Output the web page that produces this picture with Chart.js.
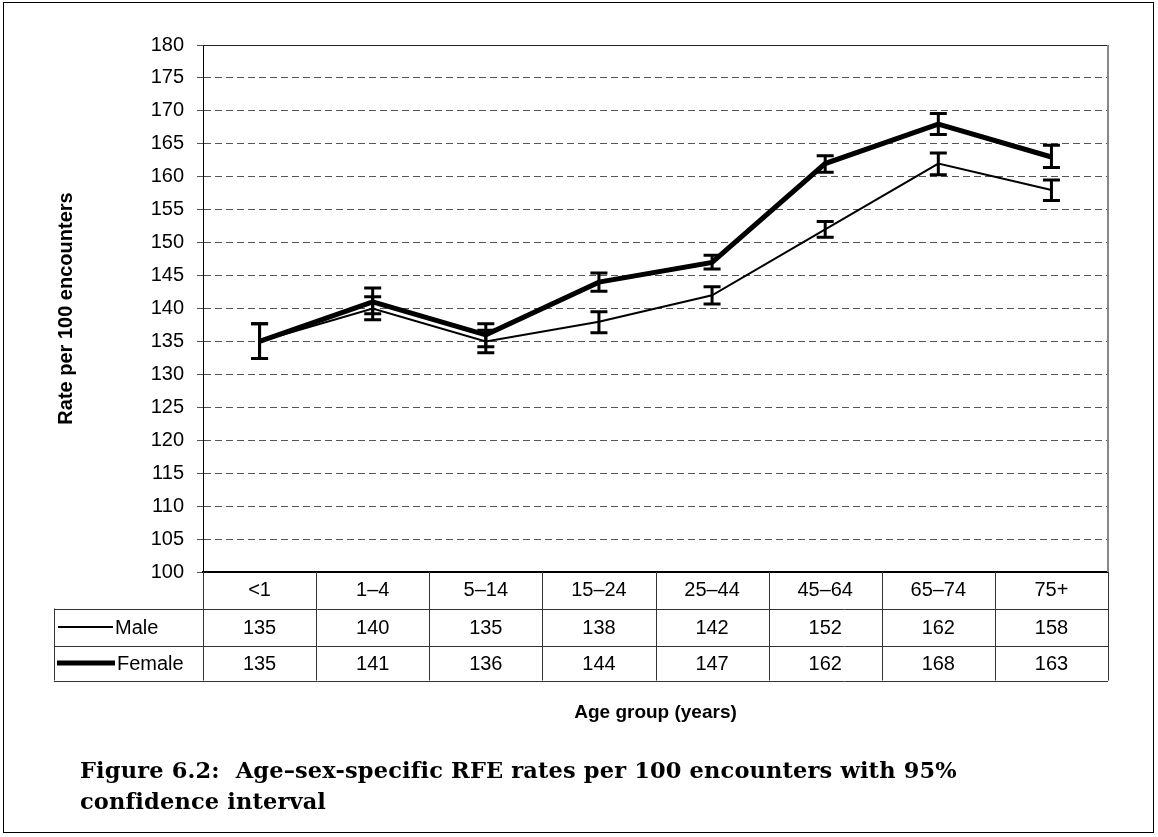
<!DOCTYPE html>
<html>
<head>
<meta charset="utf-8">
<script src="https://cdn.jsdelivr.net/npm/chart.js@4.4.1/dist/chart.umd.min.js"></script>
<style>
  html, body { margin: 0; padding: 0; background: #fff; }
  #wrap { position: relative; width: 1158px; height: 837px; overflow: hidden; }
  #frame { position: absolute; left: 3px; top: 2px; width: 1151px; height: 831px; border: 1px solid #000; box-sizing: border-box; pointer-events: none; }
  canvas { position: absolute; left: 0; top: 0; }
  #caption { position: absolute; left: 80px; top: 755px; font-family: 'DejaVu Serif', serif; font-weight: bold; font-size: 22.5px; line-height: 31px; color: #000; letter-spacing: 0.15px; }
</style>
</head>
<body>
<div id="wrap">
  <canvas id="c" width="1158" height="837"></canvas>
  <div id="frame"></div>
  <div id="caption">Figure 6.2:&nbsp; Age–sex-specific RFE rates per 100 encounters with 95%<br>confidence interval</div>
</div>
<script>
const categories = ['<1', '1–4', '5–14', '15–24', '25–44', '45–64', '65–74', '75+'];
const male = [135, 140, 135, 138, 142, 152, 162, 158];
const female = [135, 141, 136, 144, 147, 162, 168, 163];
const maleLow = [132.4, 138.3, 133.3, 136.3, 140.7, 150.8, 160.3, 156.4];
const maleHigh = [137.7, 141.8, 136.7, 139.5, 143.3, 153.2, 163.6, 159.5];
const femaleLow = [132.4, 139.2, 134.2, 142.6, 146.0, 160.7, 166.4, 161.4];
const femaleHigh = [137.7, 143.1, 137.7, 145.4, 148.1, 163.2, 169.6, 164.8];
const seriesNames = ['Male', 'Female'];
const yMin = 100, yMax = 180, yStep = 5;

const FONT = "'Liberation Sans', Arial, sans-serif";

const tablePlugin = {
  id: 'tablePlugin',
  afterDatasetsDraw(chart) {
    const ctx = chart.ctx;
    const xs = chart.scales.x, ys = chart.scales.y;
    const bars = [[maleLow, maleHigh], [femaleLow, femaleHigh]];
    ctx.save();
    ctx.strokeStyle = '#000';
    ctx.lineWidth = 3;
    bars.forEach(([lo, hi]) => {
      for (let i = 0; i < categories.length; i++) {
        const x = xs.getPixelForValue(i);
        const y1 = ys.getPixelForValue(lo[i]);
        const y2 = ys.getPixelForValue(hi[i]);
        ctx.beginPath();
        ctx.moveTo(x, y1); ctx.lineTo(x, y2);
        ctx.moveTo(x - 8.5, y1); ctx.lineTo(x + 8.5, y1);
        ctx.moveTo(x - 8.5, y2); ctx.lineTo(x + 8.5, y2);
        ctx.stroke();
      }
    });
    ctx.restore();
  },
  afterDraw(chart) {
    const ctx = chart.ctx;
    const xs = chart.scales.x;
    const area = chart.chartArea;
    const n = categories.length;
    const colW = (area.right - area.left) / n;
    const rowTop = area.bottom;
    const r1 = rowTop + 36.5, r2 = r1 + 37, r3 = r2 + 35;
    const legL = 54;
    ctx.save();
    ctx.strokeStyle = '#222';
    ctx.lineWidth = 1;
    ctx.beginPath();
    ctx.moveTo(area.left, area.top + 0.5); ctx.lineTo(area.right, area.top + 0.5);
    ctx.stroke();
    ctx.strokeStyle = '#888';
    ctx.lineWidth = 2;
    ctx.beginPath();
    ctx.moveTo(area.right, area.top); ctx.lineTo(area.right, area.bottom);
    ctx.stroke();
    ctx.strokeStyle = '#333';
    ctx.lineWidth = 1;
    ctx.beginPath();
    for (let i = 0; i <= n; i++) {
      const x = Math.round(area.left + i * colW) + 0.5;
      ctx.moveTo(x, rowTop); ctx.lineTo(x, r3);
    }
    [r1, r2, r3].forEach(y => { ctx.moveTo(legL, Math.round(y) + 0.5); ctx.lineTo(area.right, Math.round(y) + 0.5); });
    ctx.moveTo(legL + 0.5, r1); ctx.lineTo(legL + 0.5, r3);
    ctx.stroke();
    ctx.strokeStyle = '#000';
    ctx.lineWidth = 2;
    ctx.beginPath(); ctx.moveTo(58, (r1 + r2) / 2); ctx.lineTo(113, (r1 + r2) / 2); ctx.stroke();
    ctx.lineWidth = 5;
    ctx.beginPath(); ctx.moveTo(57, (r2 + r3) / 2); ctx.lineTo(115, (r2 + r3) / 2); ctx.stroke();
    ctx.fillStyle = '#000';
    ctx.font = '20px ' + FONT;
    ctx.textBaseline = 'middle';
    ctx.textAlign = 'left';
    ctx.fillText(seriesNames[0], 115, (r1 + r2) / 2 + 1);
    ctx.fillText(seriesNames[1], 117, (r2 + r3) / 2 + 1);
    ctx.textAlign = 'center';
    for (let i = 0; i < n; i++) {
      const x = xs.getPixelForValue(i);
      ctx.fillText(String(male[i]), x, (r1 + r2) / 2 + 1);
      ctx.fillText(String(female[i]), x, (r2 + r3) / 2 + 1);
    }
    ctx.restore();
  }
};

new Chart(document.getElementById('c'), {
  type: 'line',
  data: {
    labels: categories,
    datasets: [
      { label: seriesNames[0], data: male, borderColor: '#000', borderWidth: 2, pointRadius: 0, tension: 0, fill: false },
      { label: seriesNames[1], data: female, borderColor: '#000', borderWidth: 5, pointRadius: 0, tension: 0, fill: false }
    ]
  },
  options: {
    responsive: false,
    animation: false,
    devicePixelRatio: 1,
    layout: { padding: { left: 0, right: 50, top: 45, bottom: 0 } },
    plugins: { legend: { display: false }, tooltip: { enabled: false } },
    scales: {
      x: {
        type: 'category',
        offset: true,
        grid: { display: false, drawTicks: false },
        border: { display: true, color: '#000', width: 2 },
        ticks: { color: '#000', font: { family: FONT, size: 20 }, padding: 6, maxRotation: 0, autoSkip: false },
        title: { display: true, text: 'Age group (years)', color: '#000', font: { family: FONT, size: 19, weight: 'bold' }, padding: { bottom: 113 } },
        afterFit(s) { s.height = 265; }
      },
      y: {
        min: yMin, max: yMax,
        ticks: { stepSize: yStep, color: '#000', font: { family: FONT, size: 20 }, padding: 13 },
        grid: { color: '#555', lineWidth: 1, tickColor: '#555', tickLength: 6, tickBorderDash: [] },
        border: { display: true, color: '#000', width: 1, dash: [7, 4] },
        title: { display: true, text: 'Rate per 100 encounters', color: '#000', font: { family: FONT, size: 20, weight: 'bold' }, padding: { top: 54 } },
        afterFit(s) { s.width = 203; }
      }
    }
  },
  plugins: [tablePlugin]
});
</script>
</body>
</html>
